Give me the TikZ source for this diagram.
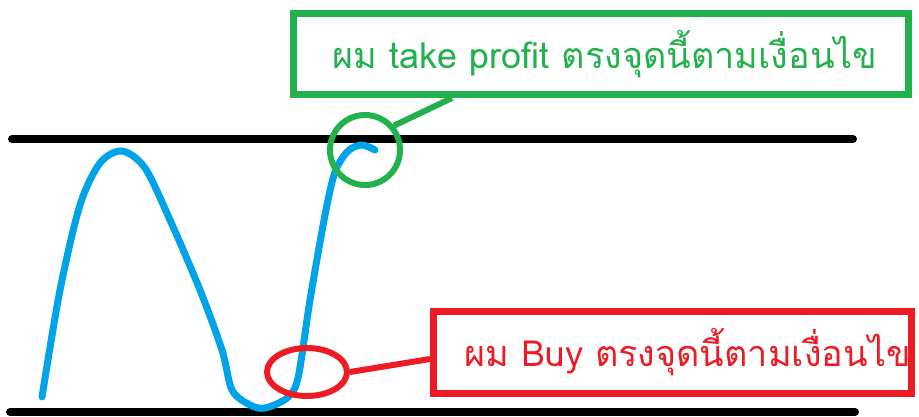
\documentclass[tikz,border=0pt]{standalone}
\usepackage{fontspec}
\newfontfamily\thaifont[Script=Thai]{Loma}
\usetikzlibrary{shapes.geometric}
\definecolor{pblue}{HTML}{00A2E8}
\definecolor{pgreen}{HTML}{22B14C}
\definecolor{pred}{HTML}{ED1C24}
\tikzset{
  level/.style={line width=8pt, line cap=round, black},
  price/.style={line width=7pt, line cap=round, line join=round, pblue},
  callbox/.style={draw, line width=7pt, inner sep=0pt, font=\thaifont\fontsize{36}{42}\selectfont},
  ring/.style={draw, line width=6pt, inner sep=0pt},
}
\begin{document}
\begin{tikzpicture}[x=1pt,y=-1pt]
\useasboundingbox (0,0) rectangle (919,416);
\coordinate (tl) at (12,139); \coordinate (tr) at (853,139);
\coordinate (bl) at (10,412); \coordinate (br) at (855,412);
\draw[level] (tl) -- (tr);
\draw[level] (bl) -- (br);
\draw[price] plot[smooth, tension=0.5] coordinates {(42,397) (60,290) (80,205) (100,163) (122,151) (145,168) (170,220) (200,290) (222,350) (232,390) (250,405) (265,408) (287,398) (298,378) (310,300) (325,215) (335,172) (348,151) (362,145) (375,150)};
\node[callbox, pgreen, minimum width=615pt, minimum height=81pt] (gbox) at (601,54) {\hspace*{8pt}ผม take profit ตรงจุดนี้ตามเงื่อนไข};
\node[callbox, pred, minimum width=478pt, minimum height=82pt] (rbox) at (672.5,352) {\hspace*{30pt}ผม Buy ตรงจุดนี้ตามเงื่อนไข};
\node[ring, circle, pgreen, minimum size=70pt] (gring) at (365,150) {};
\node[ring, ellipse, pred, minimum width=80pt, minimum height=48pt] (rring) at (307,372) {};
\draw[pgreen, line width=6pt] (gring.40) -- ([xshift=162pt]gbox.south west);
\draw[pred, line width=6pt] (rring.east) -- ([yshift=-7pt]rbox.west);
\end{tikzpicture}
\end{document}
